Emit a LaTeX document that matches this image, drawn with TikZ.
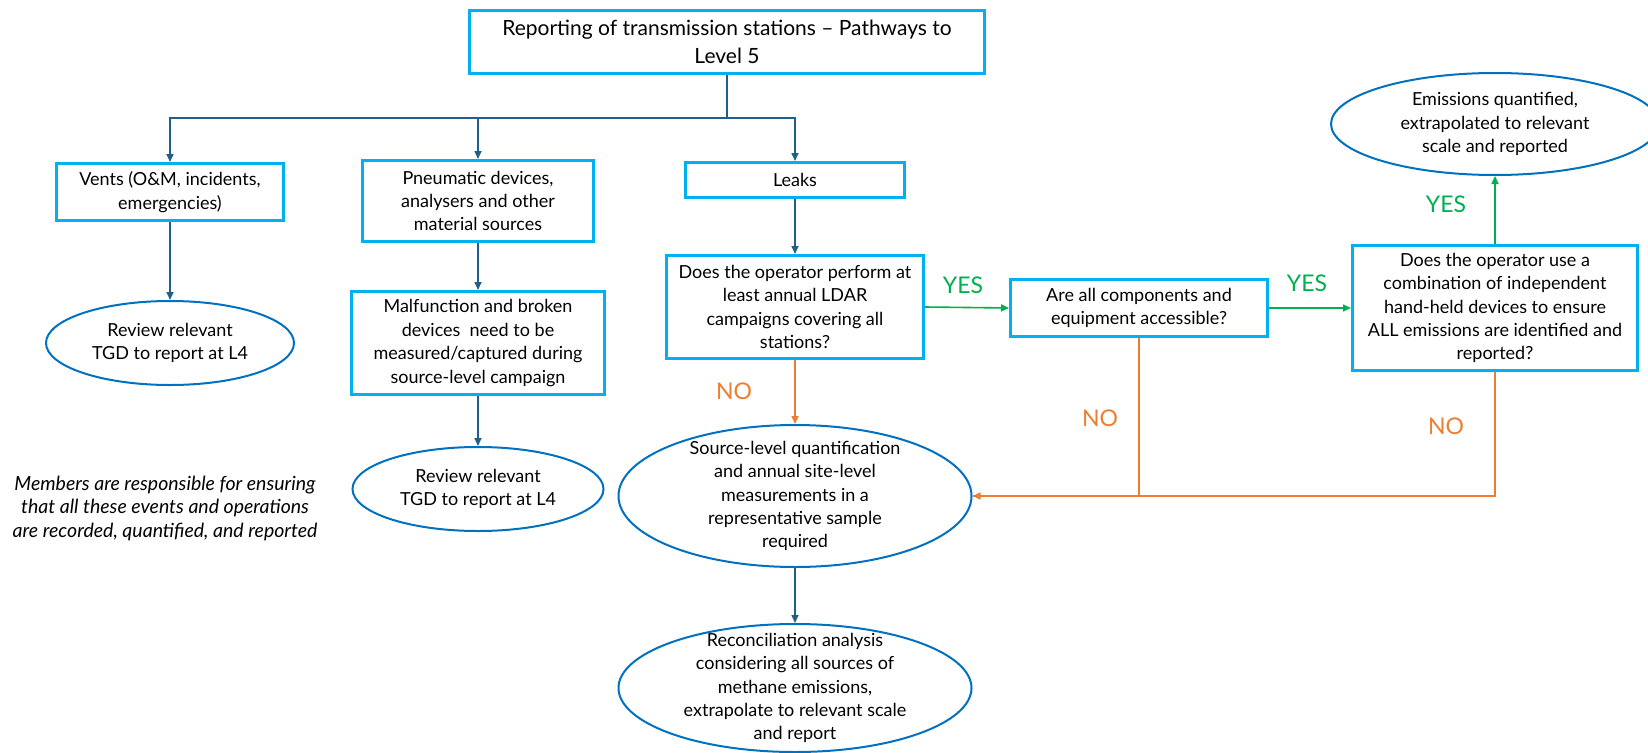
\documentclass[tikz,border=0pt]{standalone}
\usepackage{fontspec}
\setmainfont{Lato}
\usetikzlibrary{shapes.geometric,arrows.meta}
\definecolor{boxblue}{HTML}{00B0F0}
\definecolor{ellblue}{HTML}{0070C0}
\definecolor{lineblue}{HTML}{1F5F8B}
\definecolor{okgreen}{HTML}{00B050}
\definecolor{nored}{HTML}{ED7D31}
\newcommand\mytxt{\fontsize{18}{23.4}\selectfont}
\newcommand\mytitle{\fontsize{21}{27.5}\selectfont}
\newcommand\mynote{\fontsize{19.5}{23.5}\selectfont\itshape}
\newcommand\mylab{\fontsize{23}{26}\selectfont}
\begin{document}
\begin{tikzpicture}[x=1pt,y=-1pt,
  box/.style={draw=boxblue,line width=3pt,align=center,inner sep=0pt,font=\mytxt},
  oval/.style={ellipse,draw=ellblue,line width=2pt,inner sep=0pt},
  txt/.style={align=center,inner sep=0pt,font=\mytxt},
  arr/.style={draw=lineblue,line width=1.6pt,-{Triangle[length=8pt,width=7pt]}},
  plain/.style={draw=lineblue,line width=1.6pt},
  garr/.style={draw=okgreen,line width=1.6pt,-{Triangle[length=8pt,width=7pt]}},
  oarr/.style={draw=nored,line width=1.6pt,-{Triangle[length=8pt,width=7pt]}},
  oline/.style={draw=nored,line width=1.6pt},
  yes/.style={text=okgreen,font=\mylab,inner sep=0pt},
  no/.style={text=nored,font=\mylab,inner sep=0pt}]
\useasboundingbox (0,0) rectangle (1648,752);
% boxes
\node[box,font=\mytitle,minimum width=515pt,minimum height=63pt] (title) at (727,42)
  {Reporting of transmission stations -- Pathways to\\Level 5};
\node[box,minimum width=227pt,minimum height=57pt] (vents) at (170,192)
  {Vents (O\&M, incidents,\\emergencies)};
\node[box,minimum width=231pt,minimum height=81pt] (pneu) at (478,201)
  {Pneumatic devices,\\analysers and other\\material sources};
\node[box,minimum width=219pt,minimum height=35pt] (leaks) at (795,180) {Leaks};
\node[box,minimum width=253pt,minimum height=103pt] (malf) at (478,343)
  {Malfunction and broken\\devices\ \ need to be\\measured/captured during\\source-level campaign};
\node[box,minimum width=257pt,minimum height=103pt] (ldar) at (795,307)
  {Does the operator perform at\\least annual LDAR\\campaigns covering all\\stations?};
\node[box,minimum width=257pt,minimum height=57pt] (comp) at (1139,308)
  {Are all components and\\equipment accessible?};
\node[box,minimum width=285pt,minimum height=125pt] (comb) at (1495,308)
  {Does the operator use a\\combination of independent\\hand-held devices to ensure\\ALL emissions are identified and\\reported?};
% ellipses
\node[oval,minimum width=248pt,minimum height=84pt] (vo) at (170,343) {};
\node[txt] at (vo) {Review relevant\\TGD to report at L4};
\node[oval,minimum width=251pt,minimum height=84pt] (ro) at (478,489) {};
\node[txt] at (ro) {Review relevant\\TGD to report at L4};
\node[oval,minimum width=328pt,minimum height=102pt] (emis) at (1495,124) {};
\node[txt] at (emis) {Emissions quantified,\\extrapolated to relevant\\scale and reported};
\node[oval,minimum width=353pt,minimum height=142pt] (src) at (795,496) {};
\node[txt] at (src) {Source-level quantification\\and annual site-level\\measurements in a\\representative sample\\required};
\node[oval,minimum width=353pt,minimum height=128pt] (rec) at (795,688) {};
\node[txt] at (rec) {Reconciliation analysis\\considering all sources of\\methane emissions,\\extrapolate to relevant scale\\and report};
% note
\node[txt,font=\mynote] (note) at (165,508)
  {Members are responsible for ensuring\\that all these events and operations\\are recorded, quantified, and reported};
% connectors
\coordinate (j) at (727,118);
\draw[plain] (title.south) -- (j);
\draw[arr] (j) -| (vents.north);
\draw[arr] (j) -| (pneu.north);
\draw[arr] (j) -| (leaks.north);
\draw[arr] (vents.south) -- (vo.north);
\draw[arr] (pneu.south) -- (malf.north);
\draw[arr] (malf.south) -- (ro.north);
\draw[arr] (leaks.south) -- (ldar.north);
\draw[arr] (src.south) -- (rec.north);
\draw[garr] (ldar.east) -- (comp.west);
\draw[garr] (comp.east) -- (comb.west);
\draw[garr] (comb.north) -- (emis.south);
\draw[oarr] (ldar.south) -- (src.north);
\draw[oarr] (comp.south) |- (src.east);
\draw[oline] (comb.south) |- (src.east);
% labels
\node[yes] (y1) at (963,285) {YES};
\node[yes] (y2) at (1307,283) {YES};
\node[yes] (y3) at (1446,204) {YES};
\node[no] (n1) at (734,391) {NO};
\node[no] (n2) at (1100,418) {NO};
\node[no] (n3) at (1446,426) {NO};
\end{tikzpicture}
\end{document}
